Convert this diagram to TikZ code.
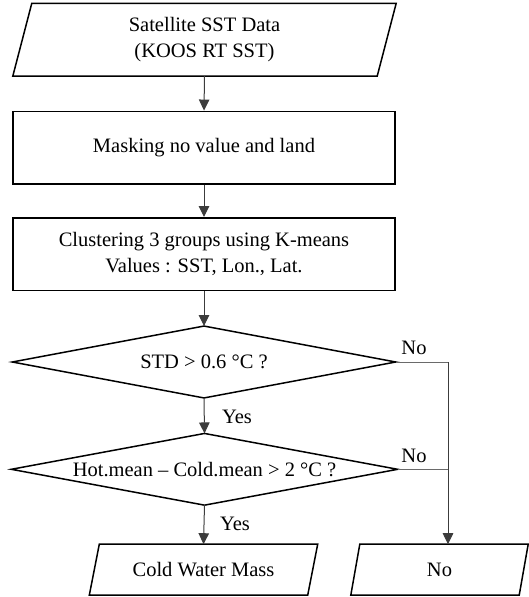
\documentclass[tikz,border=0pt]{standalone}
\usepackage{fontspec}
\setmainfont{Liberation Serif}
\usetikzlibrary{arrows.meta}
\definecolor{linegray}{HTML}{3C3C3C}
\definecolor{nogray}{HTML}{6A6A6A}
\tikzset{
  txt/.style={font=\fontsize{20.5}{26.3}\selectfont, text=black, align=center, inner sep=0pt},
  frame/.style={draw=black, line width=1.5pt},
  ghost/.style={txt, rectangle, draw=none},
  tip/.style={-{Triangle[width=10.5pt,length=11pt]}},
  flow/.style={draw=linegray, line width=1pt, tip},
  noline/.style={draw=nogray, line width=1pt},
  lbl/.style={font=\fontsize{20.5}{24}\selectfont, text=black, inner sep=0pt}
}
\begin{document}
\begin{tikzpicture}[x=1pt,y=-1pt]
\useasboundingbox (0,0) rectangle (529,597);
% nodes
\node[ghost, minimum width=383pt, minimum height=72.5pt] (n1) at (204.5,39.7) {Satellite SST Data\\(KOOS RT SST)};
\node[txt, frame, minimum width=382pt, minimum height=72.6pt] (n2) at (204,147.6) {Masking no value and land};
\node[txt, frame, minimum width=382pt, minimum height=72.5pt] (n3) at (204,254) {Clustering 3 groups using K-means\\Values : SST, Lon., Lat.};
\node[ghost, minimum width=383pt, minimum height=71.5pt] (d1) at (204,362) {STD > 0.6 °C ?};
\node[ghost, minimum width=386pt, minimum height=71.3pt] (d2) at (204.5,469.3) {Hot.mean – Cold.mean > 2 °C ?};
\node[ghost, minimum width=228pt, minimum height=50.6pt] (n4) at (203.5,569.7) {Cold Water Mass};
\node[ghost, minimum width=177pt, minimum height=50.6pt] (n5) at (439.5,569.7) {No};
% outlines
\draw[frame] ([xshift=19pt]n1.north west) -- (n1.north east) -- ([xshift=-19pt]n1.south east) -- (n1.south west) -- cycle;
\draw[frame] (d1.north) -- (d1.east) -- (d1.south) -- (d1.west) -- cycle;
\draw[frame] (d2.north) -- (d2.east) -- (d2.south) -- (d2.west) -- cycle;
\draw[frame] ([xshift=10pt]n4.north west) -- (n4.north east) -- ([xshift=-10pt]n4.south east) -- (n4.south west) -- cycle;
\draw[frame] ([xshift=9pt]n5.north west) -- (n5.north east) -- ([xshift=-9pt]n5.south east) -- (n5.south west) -- cycle;
% labels
\node[lbl] (yes1) at (237,417) {Yes};
\node[lbl] (yes2) at (235,524) {Yes};
\node[lbl] (no1) at (414,347.5) {No};
\node[lbl] (no2) at (414,455.5) {No};
% connectors
\coordinate (j1) at (448,362);
\draw[flow] (n1.south) -- (n2.north);
\draw[flow] (n2.south) -- (n3.north);
\draw[flow] (n3.south) -- (d1.north);
\draw[flow] (d1.south) -- (d2.north);
\draw[flow] (d2.south) -- (n4.north);
\draw[noline] (d1.east) -- (j1);
\draw[noline] (d2.east) -- (j1 |- d2.east);
\draw[flow] (j1) -- (j1 |- n5.north);
\end{tikzpicture}
\end{document}
